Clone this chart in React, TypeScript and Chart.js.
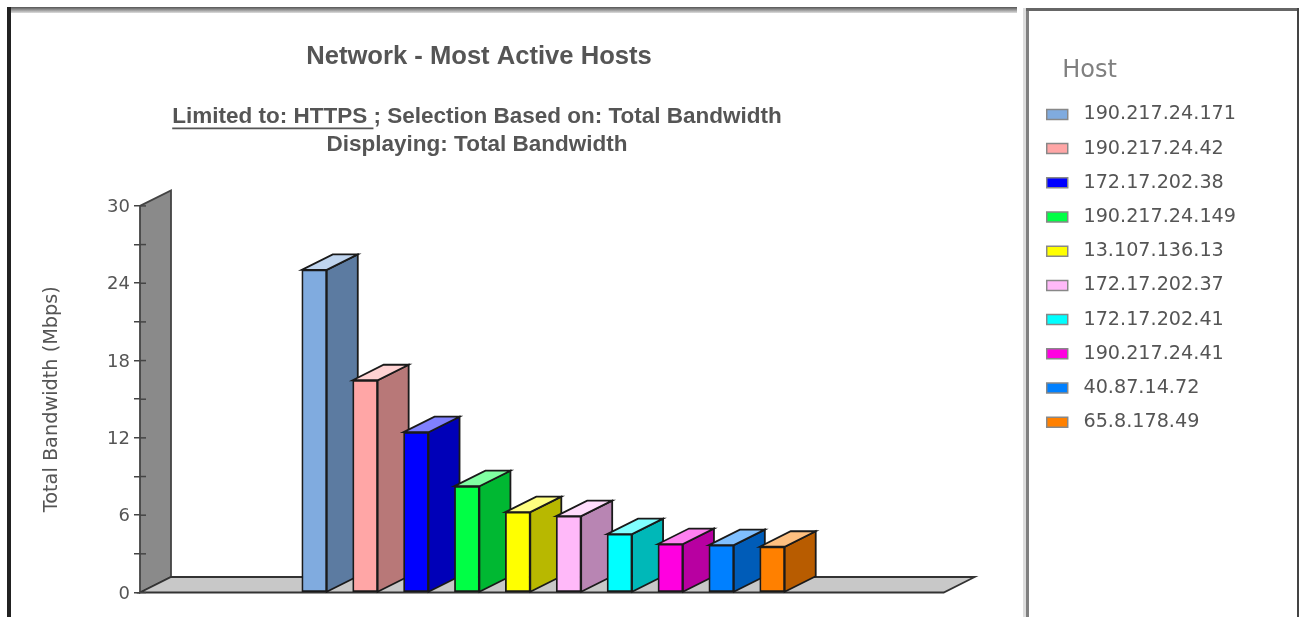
import React, { useEffect, useRef } from "react";
import { Chart, registerables } from "chart.js";

Chart.register(...registerables);

const hosts = ["190.217.24.171","190.217.24.42","172.17.202.38","190.217.24.149","13.107.136.13","172.17.202.37","172.17.202.41","190.217.24.41","40.87.14.72","65.8.178.49"];
const values = [25.04, 16.47, 12.44, 8.25, 6.24, 5.93, 4.53, 3.76, 3.68, 3.55];
const colors = ["#80ABDF","#FFA6A6","#0000FF","#00FF45","#FFFF00","#FFB9F9","#00FFFF","#FF00E0","#0080FF","#FF8000"];

const chartTitle = "Network - Most Active Hosts";
const subtitleLines = ["Limited to: HTTPS ; Selection Based on: Total Bandwidth", "Displaying: Total Bandwidth"];
const underlined = "Limited to: HTTPS ";
const yTitle = "Total Bandwidth (Mbps)";
const legendTitle = "    Host";

const DX = 31, DY = 15.5;
const X_MIN = -3.425, X_MAX = 14.1, FLOOR_END = 12.37;
const TITLE_CENTER = 479;
const SUB_CENTER = 477;
const subFont = "bold 22.5px 'Liberation Sans'";

function shade(hex: string, k: number) {
  const n = parseInt(hex.slice(1), 16);
  const c = [(n >> 16) & 255, (n >> 8) & 255, n & 255].map((v) => Math.round(v * k));
  return `rgb(${c[0]},${c[1]},${c[2]})`;
}
function tint(hex: string, k: number) {
  const n = parseInt(hex.slice(1), 16);
  const c = [(n >> 16) & 255, (n >> 8) & 255, n & 255].map((v) => Math.round(v + (255 - v) * k));
  return `rgb(${c[0]},${c[1]},${c[2]})`;
}
function poly(ctx: CanvasRenderingContext2D, pts: number[][], fill: string, stroke: string, lw = 1.8) {
  ctx.beginPath();
  pts.forEach((p, i) => (i ? ctx.lineTo(p[0], p[1]) : ctx.moveTo(p[0], p[1])));
  ctx.closePath();
  ctx.fillStyle = fill;
  ctx.fill();
  ctx.strokeStyle = stroke;
  ctx.lineWidth = lw;
  ctx.stroke();
}

const stagePlugin = {
  id: "stage",
  afterLayout(chart: any) {
    chart.boxes.forEach((b: any) => {
      if (b.options && b.options.text !== undefined && b.position === "top") {
        b.left = 0;
        b.right = (Array.isArray(b.options.text) ? SUB_CENTER : TITLE_CENTER) * 2;
      }
    });
  },
  beforeDraw(chart: any) {
    const { ctx, scales } = chart;
    const y0 = scales.y.getPixelForValue(0);
    const yT = scales.y.getPixelForValue(30);
    const x0 = scales.x.getPixelForValue(X_MIN);
    const x1 = scales.x.getPixelForValue(FLOOR_END);
    ctx.save();
    poly(ctx, [[x0, y0], [x0 + DX, y0 - DY], [x0 + DX, yT - DY], [x0, yT]], "#8a8a8a", "#444");
    poly(ctx, [[x0, y0], [x1, y0], [x1 + DX, y0 - DY], [x0 + DX, y0 - DY]], "#c8c8c8", "#333");
    ctx.restore();
  },
  beforeDatasetsDraw(chart: any) {
    const { ctx, scales } = chart;
    ctx.save();
    const x0 = scales.x.getPixelForValue(X_MIN);
    ctx.strokeStyle = "#444";
    ctx.lineWidth = 1.5;
    scales.y.ticks.forEach((t: any) => {
      const py = scales.y.getPixelForValue(t.value);
      ctx.beginPath();
      ctx.moveTo(x0, py);
      ctx.lineTo(x0 + 6, py);
      ctx.stroke();
    });
    const bars = chart.getDatasetMeta(0).data;
    bars.forEach((bar: any, i: number) => {
      const { x, y, base, width } = bar.getProps(["x", "y", "base", "width"], true);
      const l = x - width / 2, r = x + width / 2;
      poly(ctx, [[r, base], [r + DX, base - DY], [r + DX, y - DY], [r, y]], shade(colors[i], 0.72), "#1a1a1a");
      poly(ctx, [[l, y], [r, y], [r + DX, y - DY], [l + DX, y - DY]], tint(colors[i], 0.5), "#1a1a1a");
    });
    ctx.restore();
  },
  afterDraw(chart: any) {
    const { ctx } = chart;
    const sub = chart.boxes.find((b: any) => b.options && Array.isArray(b.options.text));
    if (!sub) return;
    ctx.save();
    ctx.font = subFont;
    const whole = ctx.measureText(subtitleLines[0]).width;
    const part = ctx.measureText(underlined).width;
    const start = SUB_CENTER - whole / 2;
    const y = sub.top + sub.options.padding.top + 25.5;
    ctx.strokeStyle = "#555";
    ctx.lineWidth = 1.6;
    ctx.beginPath();
    ctx.moveTo(start, y);
    ctx.lineTo(start + part, y);
    ctx.stroke();
    ctx.restore();
  },
};

export default function App() {
  const ref = useRef<HTMLCanvasElement>(null);
  useEffect(() => {
    const chart = new Chart(ref.current as HTMLCanvasElement, {
      type: "bar",
      data: {
        datasets: [{
          data: values.map((v, i) => ({ x: i, y: v })),
          backgroundColor: colors,
          borderColor: "#1a1a1a",
          borderWidth: 1.8,
          borderSkipped: false,
          barThickness: 25,
        }],
      } as any,
      options: {
        responsive: false,
        animation: false,
        layout: { padding: { left: 0, right: 60, top: 0, bottom: 24.5 } },
        scales: {
          x: { type: "linear", display: false, offset: false, min: X_MIN, max: X_MAX, grid: { display: false } },
          y: {
            min: 0,
            max: 30,
            afterFit: (s: any) => { s.width = 140; },
            border: { display: false },
            grid: { drawOnChartArea: false, tickLength: 6, color: "#444", lineWidth: 1.5 },
            ticks: {
              stepSize: 3,
              autoSkip: false,
              padding: 4,
              labelOffset: 1.5,
              color: "#555",
              font: { family: "'DejaVu Sans'", size: 18 },
              callback: (v: any) => (Number(v) % 6 === 0 ? String(v) : ""),
            },
            title: {
              display: true,
              text: yTitle,
              color: "#555",
              font: { family: "'DejaVu Sans'", size: 19.3 },
              padding: { top: 40, bottom: 0 },
            },
          },
        },
        plugins: {
          tooltip: { enabled: false },
          title: {
            display: true,
            text: chartTitle,
            color: "#555",
            font: { family: "'Liberation Sans'", size: 25.6, weight: "bold", lineHeight: 1.2 },
            padding: { top: 41.6, bottom: 0 },
          },
          subtitle: {
            display: true,
            text: subtitleLines,
            color: "#555",
            font: { family: "'Liberation Sans'", size: 22.5, weight: "bold", lineHeight: "28px" },
            padding: { top: 30.6, bottom: 47 },
          },
          legend: {
            position: "right",
            align: "start",
            title: {
              display: true,
              position: "start",
              text: legendTitle,
              color: "#808080",
              font: { family: "'DejaVu Sans'", size: 24 },
              padding: { top: 59, bottom: 2 },
            },
            labels: {
              boxWidth: 21,
              boxHeight: 10,
              padding: 15,
              color: "#555",
              font: { family: "'DejaVu Sans'", size: 19.2 },
              generateLabels: () =>
                hosts.map((h, i) => ({
                  text: " " + h,
                  fillStyle: colors[i],
                  strokeStyle: "#888",
                  fontColor: "#555",
                  lineWidth: 1.5,
                  hidden: false,
                  index: i,
                })),
            },
          },
        },
      } as any,
      plugins: [stagePlugin as any],
    });
    return () => chart.destroy();
  }, []);

  return (
    <div style={{ position: "fixed", left: 0, top: 0, width: 1306, height: 617, overflow: "hidden", background: "#fff" }}>
      <div style={{ position: "absolute", left: 7, top: 7, width: 1010, height: 6, background: "linear-gradient(#555,#999 50%,#ddd)" }} />
      <div style={{ position: "absolute", left: 7, top: 7, width: 4, height: 610, background: "#222" }} />
      <div style={{ position: "absolute", left: 1023, top: 8, width: 3, height: 609, background: "#ddd" }} />
      <div style={{ position: "absolute", left: 1026, top: 8, width: 3, height: 609, background: "#808080" }} />
      <div style={{ position: "absolute", left: 1026, top: 8, width: 273, height: 3, background: "#666" }} />
      <div style={{ position: "absolute", left: 1297, top: 8, width: 2, height: 609, background: "#444" }} />
      <canvas ref={ref} width={1306} height={617} style={{ position: "absolute", left: 0, top: 0, display: "block", filter: "blur(0.5px)" }} />
    </div>
  );
}
